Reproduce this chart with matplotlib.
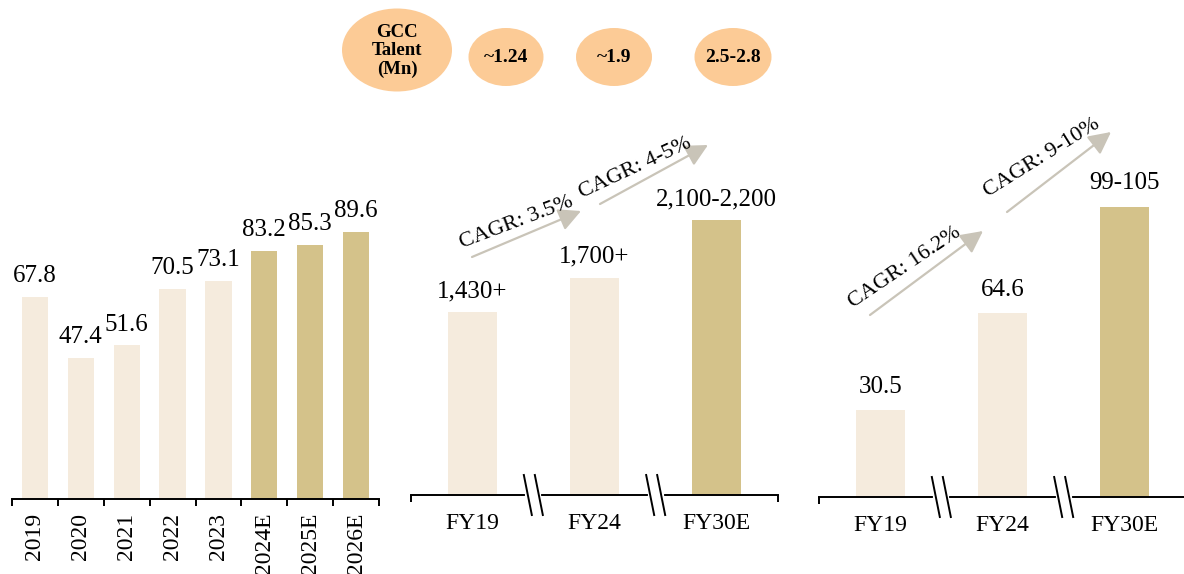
import matplotlib
matplotlib.use("Agg")
import matplotlib.pyplot as plt
from matplotlib.patches import Ellipse
from matplotlib.lines import Line2D
from matplotlib.transforms import IdentityTransform

plt.rcParams['font.family'] = ['Liberation Serif', 'DejaVu Serif']

# data
years = ['2019', '2020', '2021', '2022', '2023', '2024E', '2025E', '2026E']
market = [67.8, 47.4, 51.6, 70.5, 73.1, 83.2, 85.3, 89.6]
market_est = [False, False, False, False, False, True, True, True]

fy = ['FY19', 'FY24', 'FY30E']
gcc_count = [1430, 1700, 2150]
gcc_labels = ['1,430+', '1,700+', '2,100-2,200']
gcc_rev = [30.5, 64.6, 102]
rev_labels = ['30.5', '64.6', '99-105']
fy_est = [False, False, True]

talent = ['GCC\nTalent\n(Mn)', '~1.24', '~1.9', '2.5-2.8']
cagr_count = ['CAGR: 3.5%', 'CAGR: 4-5%']
cagr_rev = ['CAGR: 16.2%', 'CAGR: 9-10%']

LIGHT = '#F5EBDD'
DARK = '#D4C28A'
ARROW = '#C9C4B8'
BUBBLE = '#FCCB96'

W, H = 1184, 574
fig = plt.figure(figsize=(W / 100, H / 100), dpi=100)


def px_axes(left, baseline, width, height):
    return fig.add_axes([left / W, (H - baseline) / H, width / W, height / H])


def style(ax):
    for s in ['top', 'right', 'left']:
        ax.spines[s].set_visible(False)
    ax.spines['bottom'].set_linewidth(1.4)
    ax.set_yticks([])
    ax.patch.set_visible(False)


def breaks(ax, xs):
    for xb in xs:
        bx, by = ax.transData.transform((xb, 0))
        fig.add_artist(Line2D([bx - 6, bx + 6], [by, by], color='white', lw=3,
                              transform=IdentityTransform(), zorder=5))
        for off in (-5.5, 5.5):
            fig.add_artist(Line2D([bx + off - 4, bx + off + 4], [by + 20, by - 20],
                                  color='black', lw=1.4,
                                  transform=IdentityTransform(), zorder=6))


# panel 1
ax1 = px_axes(12, 499, 367, 298)
style(ax1)
cols1 = [DARK if e else LIGHT for e in market_est]
b1 = ax1.bar(range(len(years)), market, width=0.57, color=cols1)
ax1.bar_label(b1, labels=[f'{v:.1f}' for v in market], padding=7, fontsize=18)
ax1.set_xlim(-0.5, len(years) - 0.5)
ax1.set_ylim(0, 100)
ax1.set_xticks(range(len(years)))
ax1.set_xticklabels(years, rotation=90, fontsize=17)
ax1.set_xticks([i - 0.5 for i in range(len(years) + 1)], minor=True)
ax1.tick_params(axis='x', which='major', length=0, pad=10)
ax1.tick_params(axis='x', which='minor', length=5, width=1.4)

# panel 2
ax2 = px_axes(411, 495, 367, 307)
style(ax2)
cols2 = [DARK if e else LIGHT for e in fy_est]
b2 = ax2.bar(range(3), gcc_count, width=0.4, color=cols2)
ax2.bar_label(b2, labels=gcc_labels, padding=7, fontsize=18)
ax2.set_xlim(-0.5, 2.5)
ax2.set_ylim(0, 2400)
ax2.set_xticks(range(3))
ax2.set_xticklabels(fy, fontsize=17)
ax2.set_xticks([-0.5, 2.5], minor=True)
ax2.tick_params(axis='x', which='major', length=0, pad=13)
ax2.tick_params(axis='x', which='minor', length=5, width=1.4)

# panel 3
ax3 = px_axes(819, 497, 367, 313)
style(ax3)
b3 = ax3.bar(range(3), gcc_rev, width=0.4, color=cols2)
ax3.bar_label(b3, labels=rev_labels, padding=9, fontsize=18)
ax3.set_xlim(-0.5, 2.5)
ax3.set_ylim(0, 110)
ax3.set_xticks(range(3))
ax3.set_xticklabels(fy, fontsize=17)
ax3.set_xticks([-0.5, 2.5], minor=True)
ax3.tick_params(axis='x', which='major', length=0, pad=13)
ax3.tick_params(axis='x', which='minor', length=5, width=1.4)

breaks(ax2, [0.5, 1.5])
breaks(ax3, [0.5, 1.5])

# overlay for bubbles and CAGR arrows (pixel coordinates)
ov = fig.add_axes([0, 0, 1, 1], zorder=10)
ov.set_xlim(0, W)
ov.set_ylim(H, 0)
ov.axis('off')
ov.patch.set_visible(False)

bub_pos = [(397, 50, 110, 83), (506, 57, 75, 58), (614, 57, 76, 58), (733, 57, 77, 58)]
for txt, (cx, cy, bw, bh) in zip(talent, bub_pos):
    ov.add_patch(Ellipse((cx, cy), bw, bh, facecolor=BUBBLE, edgecolor='none'))
    ov.text(cx, cy + 1, txt, ha='center', va='center', fontsize=13.5 if '\n' in txt else 14,
            fontweight='bold', linespacing=1.1)

arrows = [((472, 257), (581, 211)), ((600, 204), (708, 145)),
          ((870, 315), (983, 231)), ((1007, 212), (1111, 132))]
for start, tip in arrows:
    ov.annotate('', xy=tip, xytext=start,
                arrowprops=dict(arrowstyle='-|>,head_length=0.75,head_width=0.38',
                                mutation_scale=18, color=ARROW, lw=1.6,
                                shrinkA=0, shrinkB=0))

cagr_pos = [(462, 248, 20.7), (582, 198, 25), (853, 308, 34), (988, 197, 32)]
for txt, (x, y, ang) in zip(cagr_count + cagr_rev, cagr_pos):
    ov.text(x, y, txt, rotation=ang, rotation_mode='anchor', ha='left', va='baseline',
            fontsize=16)

fig.savefig('out.png', dpi=100)
